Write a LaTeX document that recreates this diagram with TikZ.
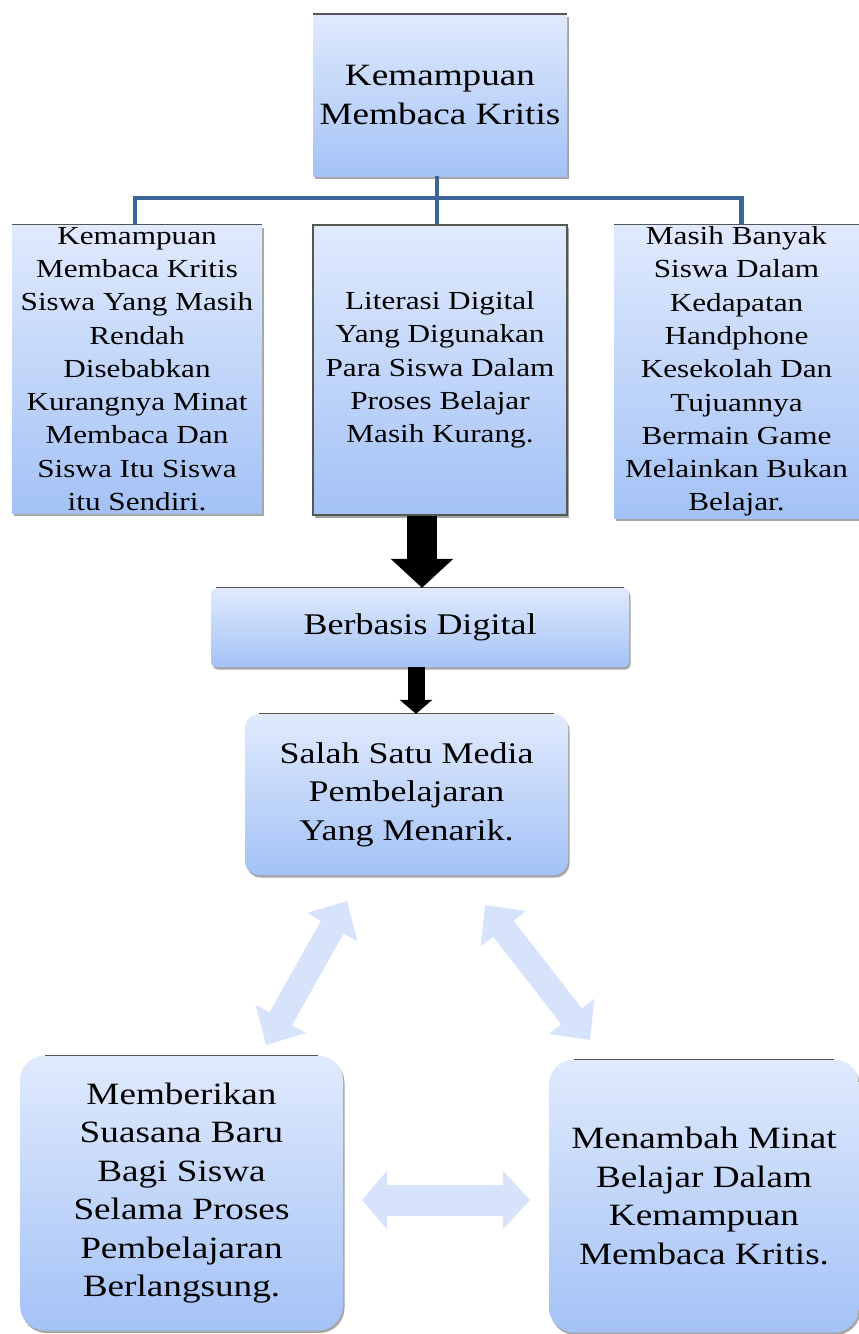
\documentclass[tikz,border=0pt]{standalone}
\usepackage{fontspec}
\setmainfont[FakeStretch=1.2]{Liberation Serif}
\usetikzlibrary{shadows,arrows.meta}
\definecolor{boxtop}{HTML}{E0EAFD}
\definecolor{boxbot}{HTML}{A4C2F6}
\definecolor{conn}{HTML}{3B6597}
\definecolor{lightarr}{HTML}{D6E3FA}
\definecolor{edgegray}{HTML}{555555}
\begin{document}
\begin{tikzpicture}[x=1pt,y=-1pt,
  box/.style={top color=boxtop,bottom color=boxbot,inner sep=0pt,draw=none,
     drop shadow={shadow xshift=1.5pt,shadow yshift=-2.5pt,opacity=.35,fill=black}},
  bigtxt/.style={font=\fontsize{31}{38.5}\selectfont,align=center},
  smalltxt/.style={font=\fontsize{26}{33.3}\selectfont,align=center},
  edgeline/.style={draw=edgegray,line width=1.5pt},
  connline/.style={draw=conn,line width=4.5pt},
  lightdbl/.style={draw=lightarr,line width=26pt,
     {Triangle[length=30pt,width=56pt]}-{Triangle[length=30pt,width=56pt]}}]
\useasboundingbox (0,0) rectangle (859,1334);

% boxes
\node[box,minimum width=254pt,minimum height=162pt,
  label={[bigtxt]center:{Kemampuan\\Membaca Kritis}}] (top) at (440,95) {};
\node[box,minimum width=250pt,minimum height=288pt,
  label={[smalltxt]center:{Kemampuan\\Membaca Kritis\\Siswa Yang Masih\\Rendah\\Disebabkan\\Kurangnya Minat\\Membaca Dan\\Siswa Itu Siswa\\itu Sendiri.}}] (left) at (137,369) {};
\node[box,draw=edgegray,line width=1.2pt,minimum width=254pt,minimum height=290pt,
  label={[smalltxt]center:{Literasi Digital\\Yang Digunakan\\Para Siswa Dalam\\Proses Belajar\\Masih Kurang.}}] (mid) at (440,370) {};
\node[box,minimum width=245pt,minimum height=293pt,
  label={[smalltxt]center:{Masih Banyak\\Siswa Dalam\\Kedapatan\\Handphone\\Kesekolah Dan\\Tujuannya\\Bermain Game\\Melainkan Bukan\\Belajar.}}] (right) at (736.5,371.5) {};
\node[box,rounded corners=5pt,minimum width=418pt,minimum height=79pt,
  label={[font=\fontsize{30}{36}\selectfont]center:{Berbasis Digital}}] (berb) at (420,627.5) {};
\node[box,rounded corners=14pt,minimum width=323pt,minimum height=161pt,
  label={[font=\fontsize{30}{38.5}\selectfont,align=center]center:{Salah Satu Media\\Pembelajaran\\Yang Menarik.}}] (salah) at (406.5,794.5) {};
\node[box,rounded corners=25pt,minimum width=323pt,minimum height=275pt,
  label={[bigtxt]center:{Memberikan\\Suasana Baru\\Bagi Siswa\\Selama Proses\\Pembelajaran\\Berlangsung.}}] (bl) at (181.5,1193) {};
\node[box,rounded corners=25pt,minimum width=310pt,minimum height=273pt,
  label={[bigtxt]center:{Menambah Minat\\Belajar Dalam\\Kemampuan\\Membaca Kritis.}}] (br) at (704,1196) {};

% dark top edges
\draw[edgeline] (top.north west) -- (top.north east);
\draw[edgeline,line width=1pt] (left.north west) -- (left.north east);
\draw[edgeline,line width=1pt] (right.north west) -- (right.north east);
\draw[edgeline,line width=1pt] ([xshift=5pt]berb.north west) -- ([xshift=-5pt]berb.north east);
\draw[edgeline,line width=1pt] ([xshift=14pt]salah.north west) -- ([xshift=-14pt]salah.north east);
\draw[edgeline,line width=1pt] ([xshift=25pt]bl.north west) -- ([xshift=-25pt]bl.north east);
\draw[edgeline,line width=1pt] ([xshift=25pt]br.north west) -- ([xshift=-25pt]br.north east);

% tree connectors
\coordinate (bar) at (437,198);
\draw[connline] ([xshift=-3pt]top.south) -- ([xshift=-3pt]mid.north);
\draw[connline] ([xshift=-2pt]left.north) |- (bar) -| ([xshift=5pt]right.north);

% black arrows
\draw[line width=30pt,-{Triangle[length=29pt,width=61pt]}]
  ([xshift=-18pt]mid.south) -- ([xshift=-18pt]mid.south |- berb.north);
\draw[line width=17pt,-{Triangle[length=14pt,width=32pt]}]
  ([xshift=-4pt]berb.south) -- ([xshift=-4pt]berb.south |- salah.north);

% light double arrows
\coordinate (la1) at (347,901);
\coordinate (la2) at (266,1045);
\coordinate (ra1) at (485,905);
\coordinate (ra2) at (590,1040);
\coordinate (ha1) at (362,1200);
\coordinate (ha2) at (530,1200);
\draw[lightdbl] (la1) -- (la2);
\draw[lightdbl] (ra1) -- (ra2);
\draw[lightdbl,line width=31pt,{Triangle[length=25pt,width=57pt]}-{Triangle[length=27pt,width=57pt]}] (ha1) -- (ha2);
\end{tikzpicture}
\end{document}
